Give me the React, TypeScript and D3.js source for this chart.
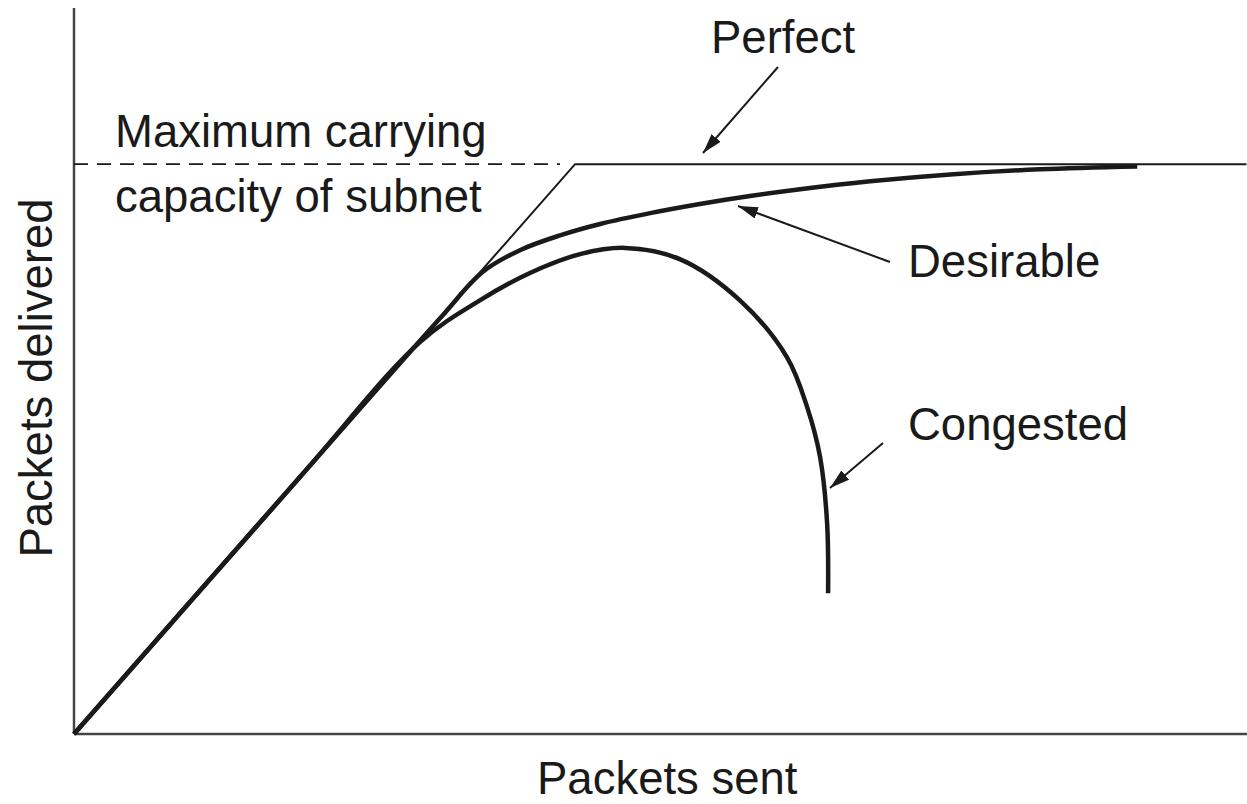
import React, { useEffect, useRef } from 'react';
import * as d3 from 'd3';

// Data units: capacity of subnet = 100 packets delivered
const capacity = 100;

const perfectSent = [0, 100, 234];
const perfectDelivered = [0, 100, 100];

const desirableSent = [0, 45, 73.1, 81.6, 89.0, 97.0, 105.0, 115.0, 124.9, 134.9, 144.9, 158.9, 174.9, 192.8, 212.2];
const desirableDelivered = [0, 45, 73, 81.1, 84.9, 87.5, 89.5, 91.4, 93.0, 94.4, 95.6, 97.0, 98.2, 99.1, 99.6];

const congestedSent = [0, 45.1, 69.1, 81.0, 91.0, 101.0, 110.0, 121.0, 132.9, 142.3, 146.3, 148.9, 150.3, 150.5];
const congestedDelivered = [0, 45.1, 68.8, 76.1, 80.9, 84.2, 85.3, 83.3, 76.1, 66.1, 57.4, 48.6, 37.0, 24.7];

const labels = ['Perfect', 'Desirable', 'Congested'];

const App = () => {
    const ref = useRef<SVGSVGElement>(null);

    useEffect(() => {
        document.body.style.margin = '0';
        const width = 1247;
        const height = 804;
        const margin = { top: 8, right: 0, bottom: 70, left: 74 };

        const svg = d3.select(ref.current);
        svg.selectAll('*').remove();

        const x = d3.scaleLinear()
            .domain([0, 234.1])
            .range([margin.left, width - margin.right]);
        const y = d3.scaleLinear()
            .domain([0, 127.4])
            .range([height - margin.bottom, margin.top]);

        const font = '"Liberation Sans", Arial, Helvetica, sans-serif';
        const ink = '#1a1a1a';

        // arrow head
        svg.append('defs')
            .append('marker')
            .attr('id', 'head')
            .attr('viewBox', '0 0 20 12')
            .attr('refX', 20)
            .attr('refY', 6)
            .attr('markerWidth', 20)
            .attr('markerHeight', 12)
            .attr('markerUnits', 'userSpaceOnUse')
            .attr('orient', 'auto')
            .append('path')
            .attr('d', 'M0,0 L20,6 L0,12 Z')
            .attr('fill', ink);

        // axes
        svg.append('line')
            .attr('x1', x(0)).attr('y1', y(0))
            .attr('x2', x(0)).attr('y2', y(127.4))
            .attr('stroke', '#444').attr('stroke-width', 2.5);
        svg.append('line')
            .attr('x1', x(0)).attr('y1', y(0))
            .attr('x2', x(234.1)).attr('y2', y(0))
            .attr('stroke', '#444').attr('stroke-width', 2.5);

        // capacity dashed line
        svg.append('line')
            .attr('x1', x(0)).attr('y1', y(capacity))
            .attr('x2', x(97)).attr('y2', y(capacity))
            .attr('stroke', ink)
            .attr('stroke-width', 1.8)
            .attr('stroke-dasharray', '14 9');

        const straight = d3.line<number>()
            .x((d, i) => x(perfectSent[i]))
            .y(d => y(d));

        svg.append('path')
            .attr('d', straight(perfectDelivered))
            .attr('fill', 'none')
            .attr('stroke', ink)
            .attr('stroke-width', 2);

        const curve = (xs: number[], ys: number[]) =>
            d3.line<number>()
                .x((d, i) => x(xs[i]))
                .y(d => y(d))
                .curve(d3.curveCatmullRom.alpha(0.5))(ys);

        svg.append('path')
            .attr('d', curve(desirableSent, desirableDelivered))
            .attr('fill', 'none')
            .attr('stroke', ink)
            .attr('stroke-width', 4.5);

        svg.append('path')
            .attr('d', curve(congestedSent, congestedDelivered))
            .attr('fill', 'none')
            .attr('stroke', ink)
            .attr('stroke-width', 4.5);

        // annotations
        const arrows = [
            { from: [778, 67], to: [703, 153] },
            { from: [890, 262], to: [738, 206] },
            { from: [883, 443], to: [830, 488] },
        ];
        arrows.forEach(a => {
            svg.append('line')
                .attr('x1', a.from[0]).attr('y1', a.from[1])
                .attr('x2', a.to[0]).attr('y2', a.to[1])
                .attr('stroke', ink)
                .attr('stroke-width', 2)
                .attr('marker-end', 'url(#head)');
        });

        const text = (t: string, px: number, py: number, anchor = 'start') =>
            svg.append('text')
                .attr('x', px)
                .attr('y', py)
                .attr('text-anchor', anchor)
                .attr('font-family', font)
                .attr('font-size', 45.5)
                .attr('fill', ink)
                .text(t);

        text(labels[0], 711, 53);
        text(labels[1], 908, 277);
        text(labels[2], 908, 440);
        text('Maximum carrying', 115, 147);
        text('capacity of subnet', 115, 212);
        text('Packets sent', 537, 794);

        svg.append('text')
            .attr('transform', 'translate(52,378) rotate(-90)')
            .attr('text-anchor', 'middle')
            .attr('font-family', font)
            .attr('font-size', 45.5)
            .attr('fill', ink)
            .text('Packets delivered');

        return () => {
            svg.selectAll('*').remove();
        };
    }, []);

    return <svg ref={ref} width={1247} height={804} style={{ display: 'block', background: '#fff' }} />;
};

export default App;
